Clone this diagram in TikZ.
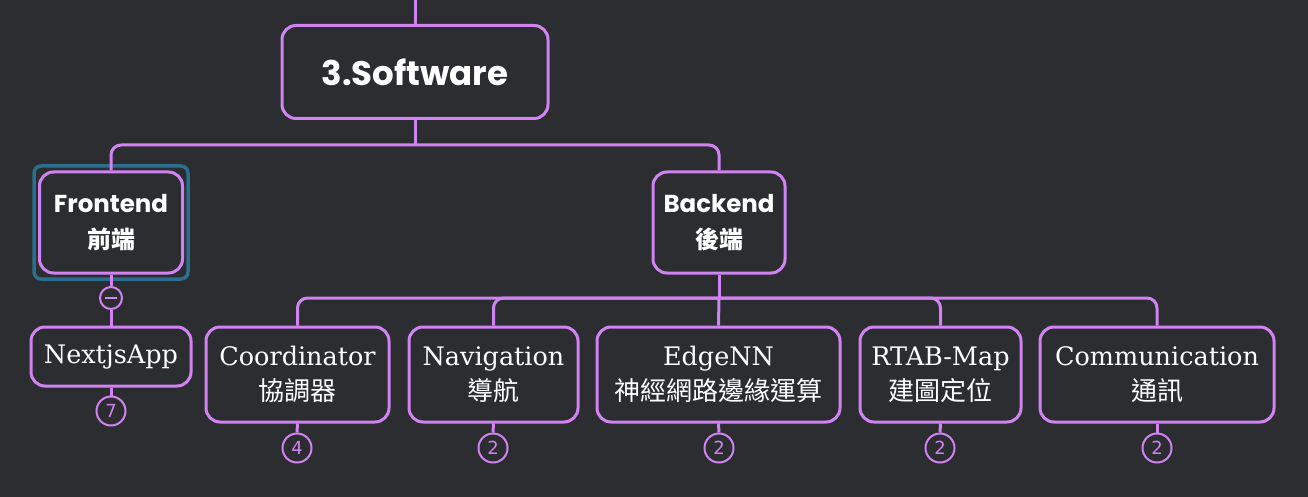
\documentclass[tikz,border=0pt]{standalone}
\usepackage{fontspec}
\setmainfont{DejaVu Serif}
\newfontfamily\headfont{Poppins}
\newfontfamily\cjk{Noto Sans CJK TC}
\newfontfamily\numfont{DejaVu Sans}
\definecolor{bg}{HTML}{2B2D31}
\definecolor{vio}{HTML}{D283F2}
\definecolor{hl}{HTML}{2C6E8E}
\tikzset{
  box/.style={draw=vio, line width=3pt, rounded corners=14pt, fill=bg, text=white, align=center, inner sep=0pt},
  head/.style={box, font=\headfont\bfseries\fontsize{24.5}{36}\selectfont},
  leaf/.style={box, font=\fontsize{25.5}{35}\selectfont},
  hcjk/.style={font=\cjk\bfseries\fontsize{24}{36}\selectfont},
  conn/.style={draw=vio, line width=3pt, rounded corners=10pt},
  cnt/.style={circle, draw=vio, line width=2pt, fill=bg, minimum size=29pt, inner sep=0pt, text=vio, font=\numfont\fontsize{18}{18}\selectfont},
}
\begin{document}
\begin{tikzpicture}[x=1pt,y=-1pt]
\fill[bg] (0,0) rectangle (1308,497);
\useasboundingbox (0,0) rectangle (1308,497);
\coordinate (top) at (415,0);
% highlight
\draw[hl, line width=3.5pt, rounded corners=7pt] (34,166) rectangle (188,279);
\node[box, minimum width=266pt, minimum height=93pt, font=\headfont\bfseries\fontsize{34}{40}\selectfont] (soft) at (415,72) {3.Software};
\node[head, minimum width=143pt, minimum height=101pt] (front) at (111,222.5) {Frontend\\{\cjk\fontsize{24}{36}\selectfont 前端}};
\node[head, minimum width=132pt, minimum height=101pt] (back) at (719,222.5) {Backend\\{\cjk\fontsize{24}{36}\selectfont 後端}};
\node[leaf, minimum width=160pt, minimum height=59pt] (next) at (111,356.5) {NextjsApp};
\node[leaf, minimum width=183pt, minimum height=95pt] (coord) at (297.5,374.5) {Coordinator\\{\cjk\fontsize{26}{35}\selectfont 協調器}};
\node[leaf, minimum width=169pt, minimum height=95pt] (nav) at (493.5,374.5) {Navigation\\{\cjk\fontsize{26}{35}\selectfont 導航}};
\node[leaf, minimum width=243pt, minimum height=95pt] (edge) at (718.5,374.5) {EdgeNN\\{\cjk\fontsize{26}{35}\selectfont 神經網路邊緣運算}};
\node[leaf, minimum width=161pt, minimum height=95pt] (rtab) at (940.5,374.5) {RTAB-Map\\{\cjk\fontsize{26}{35}\selectfont 建圖定位}};
\node[leaf, minimum width=234pt, minimum height=95pt] (comm) at (1157,374.5) {Communication\\{\cjk\fontsize{26}{35}\selectfont 通訊}};
\node[circle, draw=vio, line width=2pt, fill=bg, minimum size=22pt, inner sep=0pt] (col) at (111,298) {};
\draw[vio, line width=1.5pt] ([xshift=-6pt]col.center) -- ([xshift=6pt]col.center);
\node[cnt] (c7) at (111,411) {7};
\node[cnt] (c4) at (297,448) {4};
\node[cnt] (c2a) at (493,448) {2};
\node[cnt] (c2b) at (719,448) {2};
\node[cnt] (c2c) at (940,448) {2};
\node[cnt] (c2d) at (1157,448) {2};
\coordinate (bus1) at (415,145);
\coordinate (bus2) at (719,298);
\draw[conn] (top) -- (soft.north);
\draw[conn] (soft.south) -- (bus1);
\draw[conn] (bus1) -| (front.north);
\draw[conn] (bus1) -| (back.north);
\draw[conn] (front.south) -- (col.north);
\draw[conn] (col.south) -- (next.north);
\draw[conn] (back.south) -- (bus2);
\draw[conn] (bus2) -| (coord.north);
\draw[conn] (bus2) -| (nav.north);
\draw[conn] (bus2) -- (edge.north);
\draw[conn] (bus2) -| (rtab.north);
\draw[conn] (bus2) -| (comm.north);
\draw[conn] (next.south) -- (c7.north);
\draw[conn] (coord.south) -- (c4.north);
\draw[conn] (nav.south) -- (c2a.north);
\draw[conn] (edge.south) -- (c2b.north);
\draw[conn] (rtab.south) -- (c2c.north);
\draw[conn] (comm.south) -- (c2d.north);
\end{tikzpicture}
\end{document}
